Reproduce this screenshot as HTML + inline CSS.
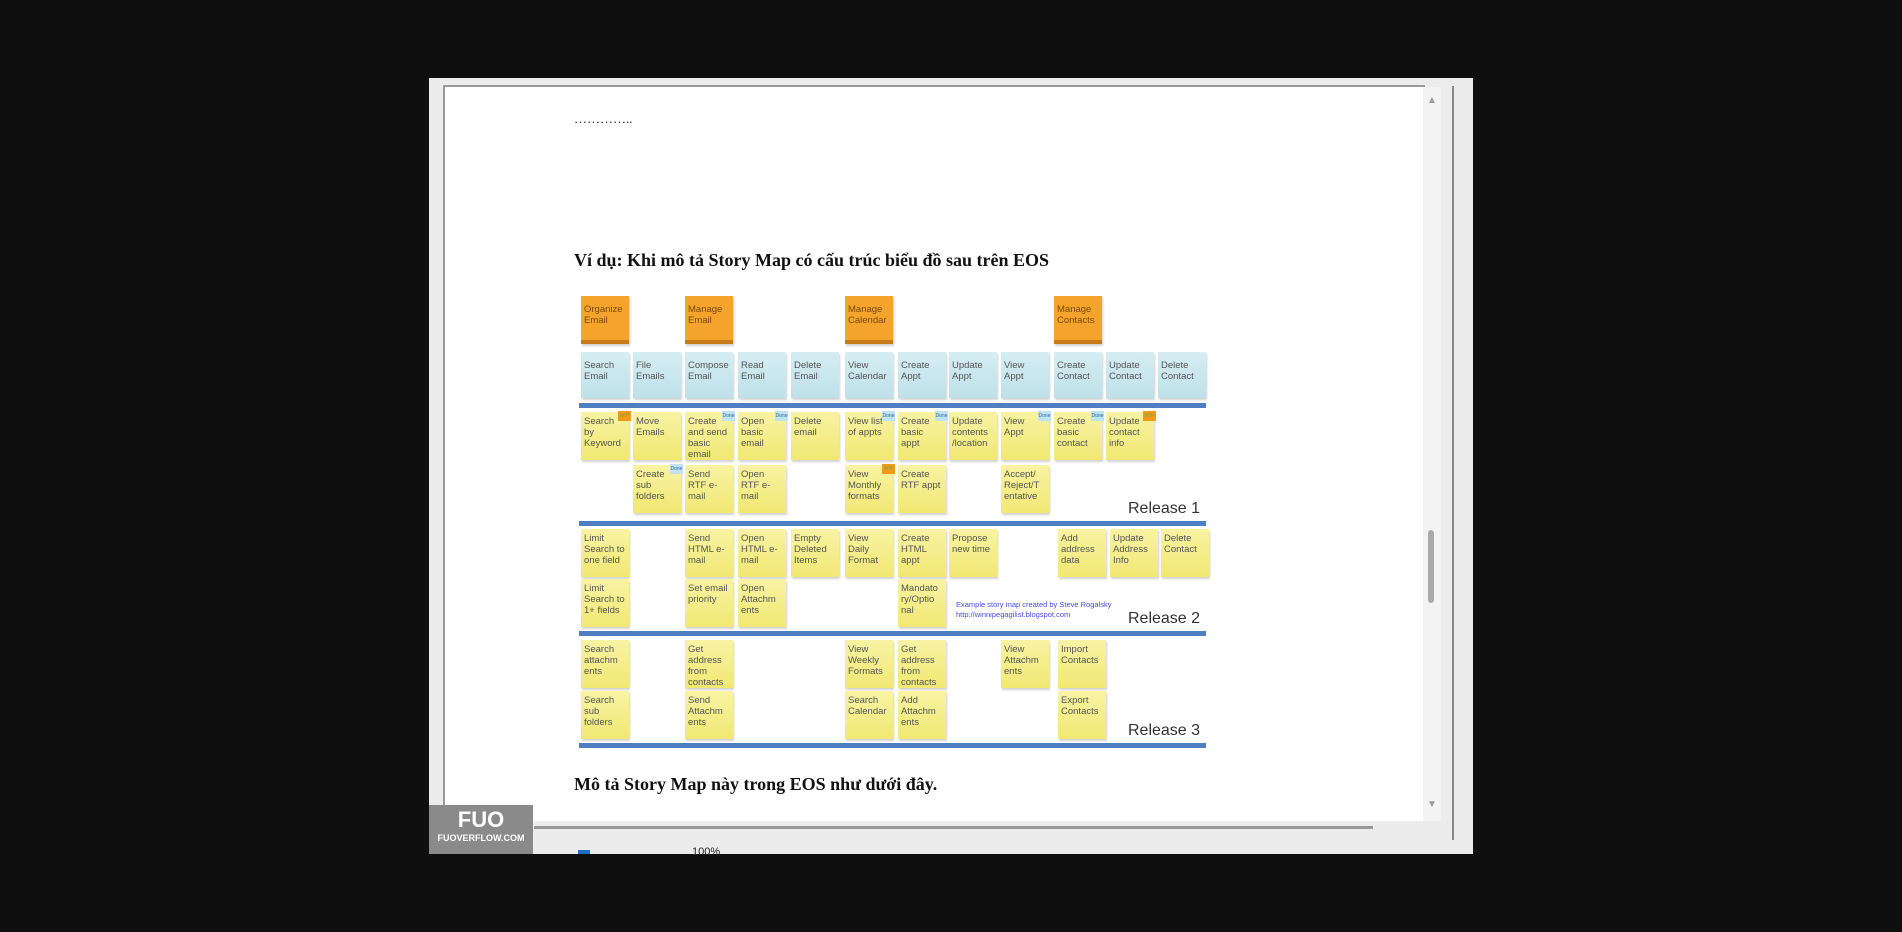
<!DOCTYPE html>
<html><head><meta charset="utf-8"><style>
*{margin:0;padding:0;box-sizing:border-box}
body{width:1902px;height:932px;background:#0f0f0f;position:relative;overflow:hidden;font-family:"Liberation Sans",sans-serif}
.a{position:absolute}
.n{position:absolute;width:48px;font:9.5px/11px "Liberation Sans Narrow","Liberation Sans",sans-serif;color:#555;padding:4px 3px;box-shadow:1px 2px 2px rgba(0,0,0,.18)}
.y{background:linear-gradient(#f8f3a4,#f1e872);height:48px}
.b{background:linear-gradient(#d5eef3,#bfe0e8);height:46px;top:352px;padding-top:8px}
.o{background:#f4a42a;height:48px;top:296px;color:#7a4a10;padding-top:8px;border-bottom:4px solid #c97a1a}
.line{position:absolute;left:579px;width:627px;height:5px;background:#4f7ec3}
.rel{position:absolute;left:1128px;font:16px "Liberation Sans Narrow","Liberation Sans",sans-serif;color:#333}
.t{position:absolute;width:13px;height:10px;right:-2px;top:-1px;font-size:5px;line-height:10px;text-align:center}
.d{background:#bfe3f0;color:#369}.w{background:#f19a1a;color:#7a3}
.h{position:absolute;left:574px;font:bold 18px "Liberation Serif",serif;color:#111}
</style></head><body>
<div class="a" style="left:429px;top:78px;width:1044px;height:776px;background:#ececec"></div>
<div class="a" style="left:443px;top:85px;width:982px;height:736px;background:#fff;border-left:2px solid #999;border-top:2px solid #999"></div>
<div class="a" style="left:1423px;top:87px;width:18px;height:734px;background:#f3f3f3"></div>
<div class="a" style="left:1427px;top:95px;color:#999;font-size:10px">▲</div>
<div class="a" style="left:1427px;top:799px;color:#999;font-size:10px">▼</div>
<div class="a" style="left:1428px;top:530px;width:6px;height:73px;background:#aaa;border-radius:3px"></div>
<div class="a" style="left:1452px;top:86px;width:2px;height:754px;background:#888"></div>
<div class="a" style="left:534px;top:826px;width:839px;height:3px;background:#999"></div>
<div class="a" style="left:578px;top:850px;width:12px;height:4px;background:#1a6fc9"></div>
<div class="a" style="left:692px;top:846px;font-size:11px;color:#222">100%</div>
<div class="a" style="left:429px;top:805px;width:104px;height:49px;background:#8a8a8a;color:#fff;text-align:center">
<div style="font:bold 22px 'Liberation Sans Narrow',sans-serif;line-height:26px;margin-top:2px">FUO</div>
<div style="font:bold 9px 'Liberation Sans Narrow',sans-serif">FUOVERFLOW.COM</div></div>
<div class="a" style="left:574px;top:111px;font:13px 'Liberation Serif',serif;color:#222">…………..</div>
<div class="h" style="top:250px">Ví dụ: Khi mô tả Story Map có cấu trúc biểu đồ sau trên EOS</div>
<div class="h" style="top:774px">Mô tả Story Map này trong EOS như dưới đây.</div>

<div class="n o" style="left:581px">Organize Email</div>
<div class="n o" style="left:685px">Manage Email</div>
<div class="n o" style="left:845px">Manage Calendar</div>
<div class="n o" style="left:1054px">Manage Contacts</div>

<div class="n b" style="left:581px">Search Email</div>
<div class="n b" style="left:633px">File Emails</div>
<div class="n b" style="left:685px">Compose Email</div>
<div class="n b" style="left:738px">Read Email</div>
<div class="n b" style="left:791px">Delete Email</div>
<div class="n b" style="left:845px">View Calendar</div>
<div class="n b" style="left:898px">Create Appt</div>
<div class="n b" style="left:949px">Update Appt</div>
<div class="n b" style="left:1001px">View Appt</div>
<div class="n b" style="left:1054px">Create Contact</div>
<div class="n b" style="left:1106px">Update Contact</div>
<div class="n b" style="left:1158px">Delete Contact</div>

<div class="line" style="top:403px"></div>
<div class="line" style="top:521px"></div>
<div class="line" style="top:631px"></div>
<div class="line" style="top:743px"></div>
<div class="rel" style="top:500px">Release 1</div>
<div class="rel" style="top:610px">Release 2</div>
<div class="rel" style="top:722px">Release 3</div>

<div class="n y" style="left:581px;top:412px">Search by Keyword<div class="t w">WIP</div></div>
<div class="n y" style="left:633px;top:412px">Move Emails</div>
<div class="n y" style="left:685px;top:412px">Create and send basic email<div class="t d">Done</div></div>
<div class="n y" style="left:738px;top:412px">Open basic email<div class="t d">Done</div></div>
<div class="n y" style="left:791px;top:412px">Delete email</div>
<div class="n y" style="left:845px;top:412px">View list of appts<div class="t d">Done</div></div>
<div class="n y" style="left:898px;top:412px">Create basic appt<div class="t d">Done</div></div>
<div class="n y" style="left:949px;top:412px">Update contents /location</div>
<div class="n y" style="left:1001px;top:412px">View Appt<div class="t d">Done</div></div>
<div class="n y" style="left:1054px;top:412px">Create basic contact<div class="t d">Done</div></div>
<div class="n y" style="left:1106px;top:412px">Update contact info<div class="t w">WIP</div></div>

<div class="n y" style="left:633px;top:465px">Create sub folders<div class="t d">Done</div></div>
<div class="n y" style="left:685px;top:465px">Send RTF e-mail</div>
<div class="n y" style="left:738px;top:465px">Open RTF e-mail</div>
<div class="n y" style="left:845px;top:465px">View Monthly formats<div class="t w">WIP</div></div>
<div class="n y" style="left:898px;top:465px">Create RTF appt</div>
<div class="n y" style="left:1001px;top:465px">Accept/ Reject/T entative</div>

<div class="n y" style="left:581px;top:529px">Limit Search to one field</div>
<div class="n y" style="left:685px;top:529px">Send HTML e-mail</div>
<div class="n y" style="left:738px;top:529px">Open HTML e-mail</div>
<div class="n y" style="left:791px;top:529px">Empty Deleted Items</div>
<div class="n y" style="left:845px;top:529px">View Daily Format</div>
<div class="n y" style="left:898px;top:529px">Create HTML appt</div>
<div class="n y" style="left:949px;top:529px">Propose new time</div>
<div class="n y" style="left:1058px;top:529px">Add address data</div>
<div class="n y" style="left:1110px;top:529px">Update Address Info</div>
<div class="n y" style="left:1161px;top:529px">Delete Contact</div>

<div class="n y" style="left:581px;top:579px">Limit Search to 1+ fields</div>
<div class="n y" style="left:685px;top:579px">Set email priority</div>
<div class="n y" style="left:738px;top:579px">Open Attachm ents</div>
<div class="n y" style="left:898px;top:579px">Mandato ry/Optio nal</div>
<div class="a" style="left:956px;top:600px;font:7.5px/10px 'Liberation Sans',sans-serif;color:#4a4ae0">Example story map created by Steve Rogalsky<br>http://winnipegagilist.blogspot.com</div>

<div class="n y" style="left:581px;top:640px">Search attachm ents</div>
<div class="n y" style="left:685px;top:640px">Get address from contacts</div>
<div class="n y" style="left:845px;top:640px">View Weekly Formats</div>
<div class="n y" style="left:898px;top:640px">Get address from contacts</div>
<div class="n y" style="left:1001px;top:640px">View Attachm ents</div>
<div class="n y" style="left:1058px;top:640px">Import Contacts</div>

<div class="n y" style="left:581px;top:691px">Search sub folders</div>
<div class="n y" style="left:685px;top:691px">Send Attachm ents</div>
<div class="n y" style="left:845px;top:691px">Search Calendar</div>
<div class="n y" style="left:898px;top:691px">Add Attachm ents</div>
<div class="n y" style="left:1058px;top:691px">Export Contacts</div>
</body></html>
